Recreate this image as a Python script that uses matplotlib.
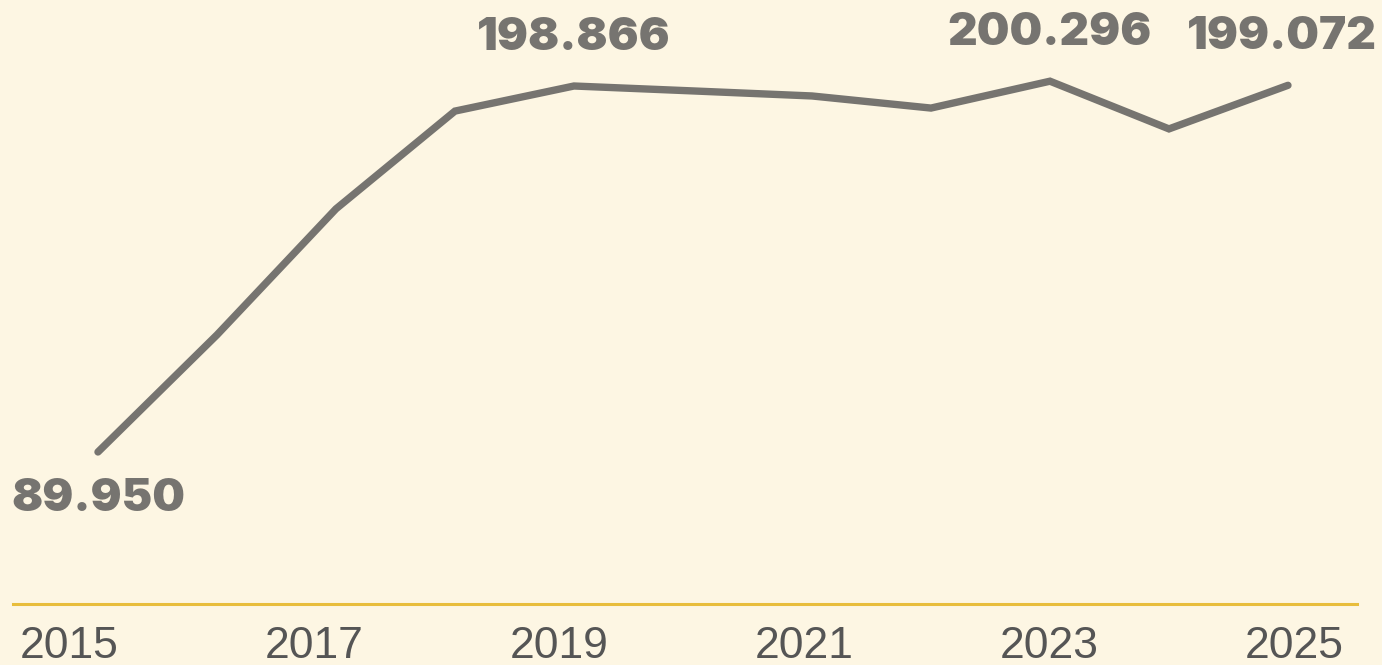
import numpy as np
import matplotlib.pyplot as plt

# data
years = [2015, 2016, 2017, 2018, 2019, 2020, 2021, 2022, 2023, 2024, 2025]
values = [89.950, 124.8, 162.3, 191.4, 198.866, 197.4, 195.9, 192.3, 200.296, 186.1, 199.072]

# labelled points: year -> (text, above?)
labels = {2015: ("89.950", False), 2019: ("198.866", True),
          2023: ("200.296", True), 2025: ("199.072", True)}

tick_labels = ["2015", "2017", "2019", "2021", "2023", "2025"]
# tick labels are spread evenly over the axis, not on the data points
tick_pos = np.linspace(2014.76, 2025.05, len(tick_labels))

bg = "#fdf6e3"
line_col = "#767470"

fig = plt.figure(figsize=(13.82, 6.65), dpi=100, facecolor=bg)
ax = fig.add_axes([13 / 1382, 61 / 665, 1344 / 1382, 604 / 665])
ax.set_facecolor(bg)

ax.plot(years, values, color=line_col, lw=5.3, solid_capstyle="round",
        solid_joinstyle="miter")

for yr, (txt, above) in labels.items():
    v = values[years.index(yr)]
    dx = -4 if yr == 2025 else 0
    ax.annotate(txt, (yr, v), xytext=(dx, 26 if above else -19),
                textcoords="offset points", ha="center",
                va="baseline" if above else "top",
                fontsize=33, fontweight=900, color=line_col,
                family="Inter")

ax.set_xlim(2014.286, 2025.58)
ax.set_ylim(44.71, 224.46)

for s in ["top", "right", "left"]:
    ax.spines[s].set_visible(False)
ax.spines["bottom"].set_color("#e8bd3c")
ax.spines["bottom"].set_linewidth(2.2)
ax.set_yticks([])
ax.set_xticks(tick_pos)
ax.set_xticklabels(tick_labels, fontsize=32, color="#555555",
                   family="Liberation Sans")
ax.tick_params(axis="x", length=0, pad=16)

fig.savefig("out.png", dpi=100, facecolor=bg)
